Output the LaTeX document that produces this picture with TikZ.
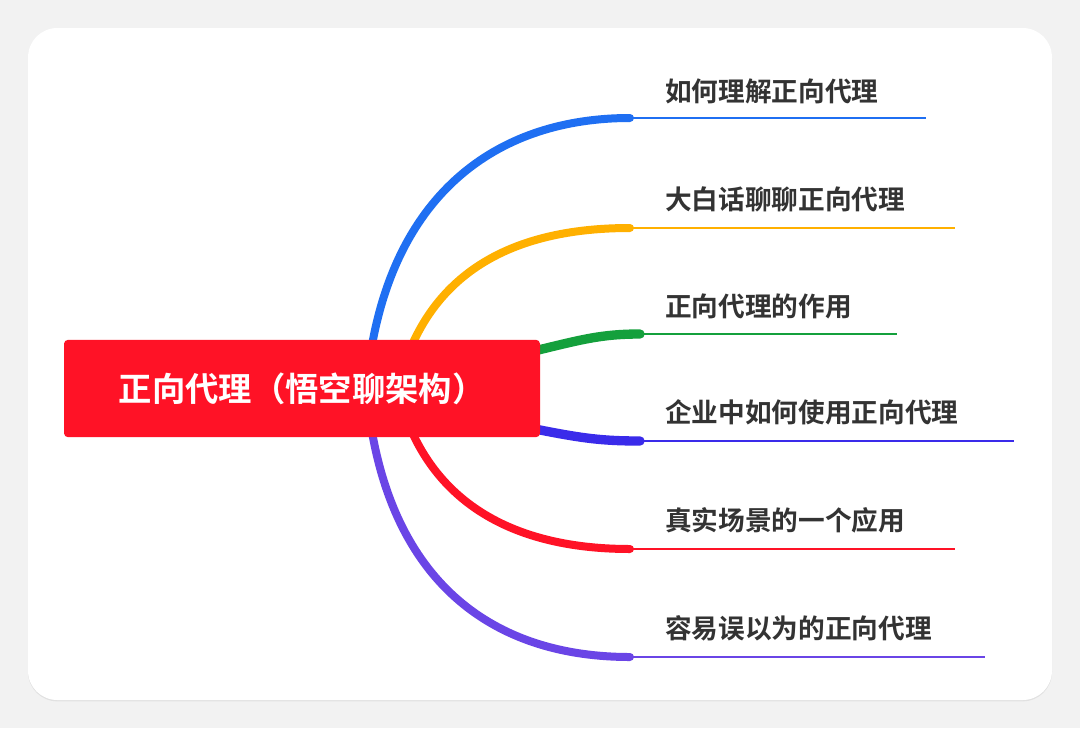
\documentclass[tikz,border=0pt]{standalone}
\usepackage{fontspec}
\newfontfamily\cjk{Noto Sans CJK SC}[BoldFont={Noto Sans CJK SC Bold}]
\usetikzlibrary{shadows}
\definecolor{bgc}{HTML}{F2F2F2}
\definecolor{cred}{HTML}{FF1226}
\definecolor{cblue}{HTML}{1F6FF2}
\definecolor{corange}{HTML}{FFB000}
\definecolor{cgreen}{HTML}{14A03C}
\definecolor{cindigo}{HTML}{3A2BEA}
\definecolor{cpurple}{HTML}{6A45E6}
\definecolor{txt}{HTML}{333333}
\tikzset{lbl/.style={anchor=base west,font=\cjk\bfseries\fontsize{20}{24}\selectfont,text=txt,inner sep=0pt},
br/.style={line width=6pt,line cap=round},
ul/.style={line width=2pt}}
\begin{document}
\begin{tikzpicture}[x=0.75pt,y=-0.75pt]
\useasboundingbox (0,0) rectangle (1080,728);
\fill[bgc] (0,0) rectangle (1080,728);
\fill[white,drop shadow={opacity=0.15,shadow xshift=0pt,shadow yshift=-1pt}] [rounded corners=22pt] (28,28) rectangle (1052,700);
% branches
\coordinate (b1) at (372,345); \coordinate (e1) at (630,118); \coordinate (f1) at (926,118);
\coordinate (b2) at (412,345); \coordinate (e2) at (630,228); \coordinate (f2) at (955,228);
\coordinate (b3) at (530,352); \coordinate (e3) at (640,334); \coordinate (f3) at (897,334);
\coordinate (b4) at (530,428); \coordinate (e4) at (640,441); \coordinate (f4) at (1014,441);
\coordinate (b5) at (412,432); \coordinate (e5) at (630,549); \coordinate (f5) at (955,549);
\coordinate (b6) at (372,432); \coordinate (e6) at (630,657); \coordinate (f6) at (985,657);
\draw[br,cblue] (b1) .. controls (400,190) and (500,118) .. (e1);
\draw[ul,cblue] (e1) -- (f1);
\draw[br,corange] (b2) .. controls (450,260) and (530,228) .. (e2);
\draw[ul,corange] (e2) -- (f2);
\draw[br,cgreen,line width=7pt] (b3) .. controls (580,340) and (600,334) .. (e3);
\draw[ul,cgreen] (e3) -- (f3);
\draw[br,cindigo,line width=7pt] (b4) .. controls (580,438) and (600,441) .. (e4);
\draw[ul,cindigo] (e4) -- (f4);
\draw[br,cred] (b5) .. controls (450,515) and (530,549) .. (e5);
\draw[ul,cred] (e5) -- (f5);
\draw[br,cpurple] (b6) .. controls (400,590) and (500,657) .. (e6);
\draw[ul,cpurple] (e6) -- (f6);
% center
\node[fill=cred,rounded corners=3pt,minimum width=357pt,minimum height=73pt,inner sep=0pt,text=white,font=\cjk\bfseries\fontsize{25}{30}\selectfont] (center) at (302,388.5) {正向代理（悟空聊架构）};
% labels
\node[lbl] (l1) at (665,101) {如何理解正向代理};
\node[lbl] (l2) at (665,209) {大白话聊聊正向代理};
\node[lbl] (l3) at (665,316) {正向代理的作用};
\node[lbl] (l4) at (665,422) {企业中如何使用正向代理};
\node[lbl] (l5) at (665,530) {真实场景的一个应用};
\node[lbl] (l6) at (665,638) {容易误以为的正向代理};
\end{tikzpicture}
\end{document}
